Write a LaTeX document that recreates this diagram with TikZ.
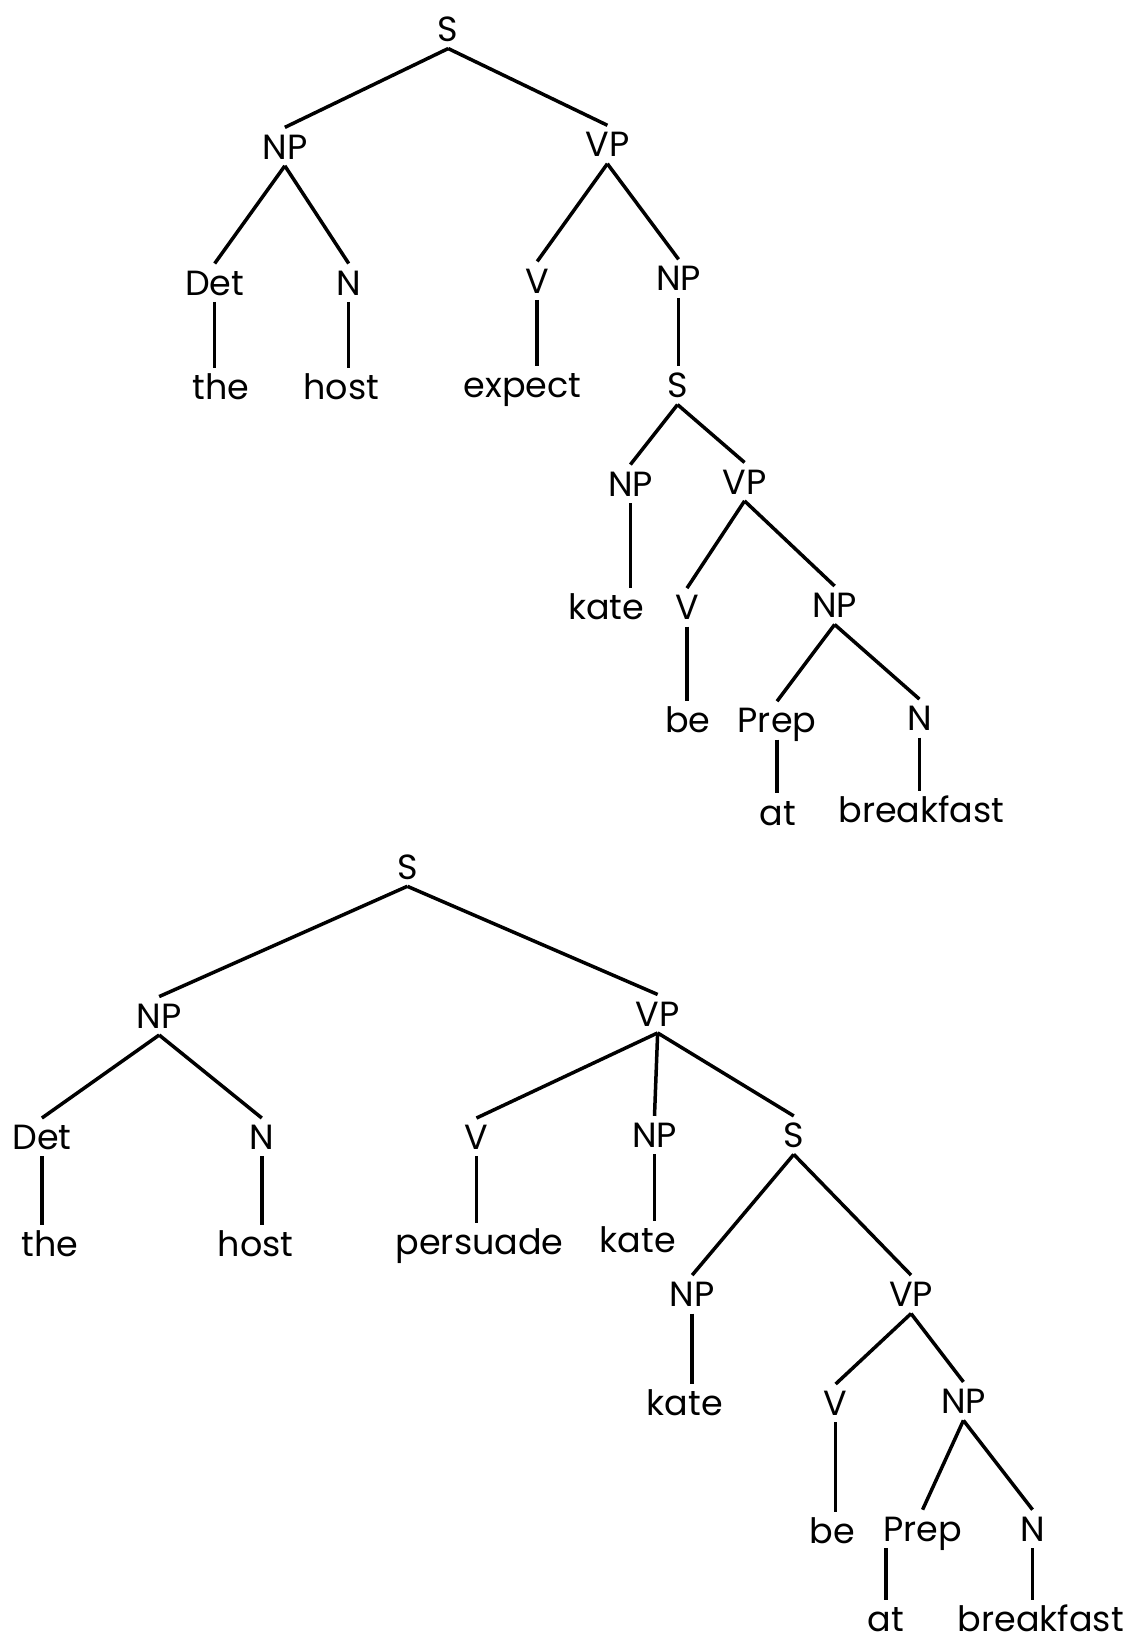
\documentclass[tikz,border=0pt]{standalone}
\usepackage{fontspec}
\setmainfont{Poppins}
\begin{document}
\begin{tikzpicture}[x=0.02cm,y=-0.02cm,
 lab/.style={font=\fontsize{19}{23}\selectfont, inner sep=3.5pt, text height=13.5pt, text depth=0pt},
 edge/.style={line width=1.9pt}]
\useasboundingbox[fill=white] (0,0) rectangle (1083,1568);
% top tree
\node[lab] (aS) at (428,28) {S};
\node[lab] (aNP) at (272,140) {NP};
\node[lab] (aVP) at (580,138) {VP};
\node[lab] (aDet) at (205,270) {Det};
\node[lab] (aN) at (333,270) {N};
\node[lab] (aV) at (513,268) {V};
\node[lab] (aNPb) at (648,266) {NP};
\node[lab] (athe) at (211,370) {the};
\node[lab] (ahost) at (326,370) {host};
\node[lab] (aexpect) at (499,368) {expect};
\node[lab] (aSb) at (647,368) {S};
\node[lab] (aNPc) at (602,462) {NP};
\node[lab] (aVPb) at (711,460) {VP};
\node[lab] (akate) at (579,580) {kate};
\node[lab] (aVb) at (656,580) {V};
\node[lab] (aNPd) at (797,578) {NP};
\node[lab] (abe) at (657,688) {be};
\node[lab] (aPrep) at (742,688) {Prep};
\node[lab] (aNb) at (878,686) {N};
\node[lab] (aat) at (743,776) {at};
\node[lab] (abreakfast) at (880,774) {breakfast};
\draw[edge] (aS.south) -- (aNP.north);
\draw[edge] (aS.south) -- (aVP.north);
\draw[edge] (aNP.south) -- (aDet.north);
\draw[edge] (aNP.south) -- (aN.north);
\draw[edge] (aVP.south) -- (aV.north);
\draw[edge] (aVP.south) -- (aNPb.north);
\draw[edge] (aDet.south) -- (aDet.south |- athe.north);
\draw[edge] (aN.south) -- (aN.south |- ahost.north);
\draw[edge] (aV.south) -- (aV.south |- aexpect.north);
\draw[edge] (aNPb.south) -- (aNPb.south |- aSb.north);
\draw[edge] (aSb.south) -- (aNPc.north);
\draw[edge] (aSb.south) -- (aVPb.north);
\draw[edge] (aNPc.south) -- (aNPc.south |- akate.north);
\draw[edge] (aVPb.south) -- (aVb.north);
\draw[edge] (aVPb.south) -- (aNPd.north);
\draw[edge] (aVb.south) -- (aVb.south |- abe.north);
\draw[edge] (aNPd.south) -- (aPrep.north);
\draw[edge] (aNPd.south) -- (aNb.north);
\draw[edge] (aPrep.south) -- (aPrep.south |- aat.north);
\draw[edge] (aNb.south) -- (aNb.south |- abreakfast.north);
% bottom tree
\node[lab] (bS) at (389,828) {S};
\node[lab] (bNP) at (152,970) {NP};
\node[lab] (bVP) at (628,968) {VP};
\node[lab] (bDet) at (40,1086) {Det};
\node[lab] (bN) at (250,1086) {N};
\node[lab] (bV) at (455,1086) {V};
\node[lab] (bNPb) at (625,1084) {NP};
\node[lab] (bSb) at (758,1084) {S};
\node[lab] (bthe) at (48,1188) {the};
\node[lab] (bhost) at (244,1188) {host};
\node[lab] (bpersuade) at (458,1186) {persuade};
\node[lab] (bkate) at (609,1184) {kate};
\node[lab] (bNPc) at (661,1236) {NP};
\node[lab] (bVPb) at (870,1236) {VP};
\node[lab] (bkateb) at (654,1340) {kate};
\node[lab] (bVb) at (798,1340) {V};
\node[lab] (bNPd) at (920,1338) {NP};
\node[lab] (bbe) at (795,1462) {be};
\node[lab] (bPrep) at (881,1460) {Prep};
\node[lab] (bNb) at (986,1460) {N};
\node[lab] (bat) at (846,1546) {at};
\node[lab] (bbreakfast) at (994,1546) {breakfast};
\draw[edge] (bS.south) -- (bNP.north);
\draw[edge] (bS.south) -- (bVP.north);
\draw[edge] (bNP.south) -- (bDet.north);
\draw[edge] (bNP.south) -- (bN.north);
\draw[edge] (bVP.south) -- (bV.north);
\draw[edge] (bVP.south) -- (bNPb.north);
\draw[edge] (bVP.south) -- (bSb.north);
\draw[edge] (bDet.south) -- (bDet.south |- bthe.north);
\draw[edge] (bN.south) -- (bN.south |- bhost.north);
\draw[edge] (bV.south) -- (bV.south |- bpersuade.north);
\draw[edge] (bNPb.south) -- (bNPb.south |- bkate.north);
\draw[edge] (bSb.south) -- (bNPc.north);
\draw[edge] (bSb.south) -- (bVPb.north);
\draw[edge] (bNPc.south) -- (bNPc.south |- bkateb.north);
\draw[edge] (bVPb.south) -- (bVb.north);
\draw[edge] (bVPb.south) -- (bNPd.north);
\draw[edge] (bVb.south) -- (bVb.south |- bbe.north);
\draw[edge] (bNPd.south) -- (bPrep.north);
\draw[edge] (bNPd.south) -- (bNb.north);
\draw[edge] (bat.north |- bPrep.south) -- (bat.north);
\draw[edge] (bNb.south) -- (bNb.south |- bbreakfast.north);
\end{tikzpicture}
\end{document}
